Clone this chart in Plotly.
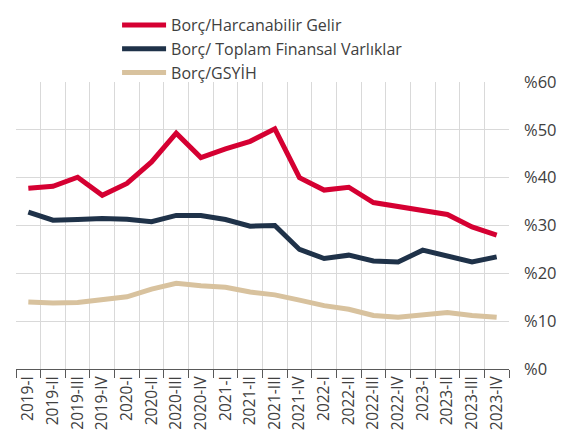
import plotly.graph_objects as go

categories = ["2019-I","2019-II","2019-III","2019-IV","2020-I","2020-II","2020-III","2020-IV",
              "2021-I","2021-II","2021-III","2021-IV","2022-I","2022-II","2022-III","2022-IV",
              "2023-I","2023-II","2023-III","2023-IV"]
borc_harcanabilir = [37.8, 38.2, 40.1, 36.3, 38.8, 43.3, 49.3, 44.2, 46.0, 47.6, 50.2, 40.0,
                     37.4, 38.0, 34.8, 34.0, 33.0, 32.3, 29.7, 28.0]
borc_finansal = [32.8, 31.1, 31.25, 31.45, 31.3, 30.8, 32.1, 32.1, 31.25, 29.85, 30.0, 25.0,
                 23.1, 23.8, 22.6, 22.35, 24.85, 23.6, 22.4, 23.45]
borc_gsyih = [14.0, 13.8, 13.9, 14.5, 15.1, 16.7, 17.9, 17.4, 17.1, 16.1, 15.5, 14.4,
              13.25, 12.5, 11.2, 10.8, 11.3, 11.8, 11.2, 10.8]
y_ticks = [0, 10, 20, 30, 40, 50, 60]

series = [
    ("Borç/Harcanabilir Gelir", borc_harcanabilir, "#d50032"),
    ("Borç/ Toplam Finansal Varlıklar", borc_finansal, "#1f3249"),
    ("Borç/GSYİH", borc_gsyih, "#d8c29e"),
]

fig = go.Figure()
for name, vals, color in series:
    fig.add_trace(go.Scatter(x=categories, y=vals, name=name, mode="lines",
                             line=dict(color=color, width=5)))

fig.update_layout(
    width=563, height=437,
    margin=dict(l=8, r=62, t=74, b=76, autoexpand=False),
    paper_bgcolor="white", plot_bgcolor="white",
    font=dict(family="Open Sans", color="#404040"),
    showlegend=True,
    legend=dict(x=0.205, y=1.008, yref="container", xanchor="left", yanchor="top",
                font=dict(size=16, color="#404040"), bgcolor="rgba(0,0,0,0)",
                tracegroupgap=0, itemwidth=44),
    xaxis=dict(type="category", tickson="boundaries", showgrid=True, gridcolor="#d9d9d9",
               gridwidth=1, ticks="outside", ticklen=8, tickcolor="#595959",
               showline=True, linecolor="#595959", linewidth=1, automargin=False,
               tickangle=-90, tickfont=dict(size=15.5, color="#404040"), range=[-0.5, 19.5]),
    yaxis=dict(side="right", range=[0, 60], tickvals=y_ticks, automargin=False,
               ticktext=["%" + str(v) for v in y_ticks], showgrid=True,
               gridcolor="#d9d9d9", gridwidth=1, zeroline=False,
               tickfont=dict(size=16.5, color="#404040"), ticklabelstandoff=14),
)

fig.write_html("out.html")
